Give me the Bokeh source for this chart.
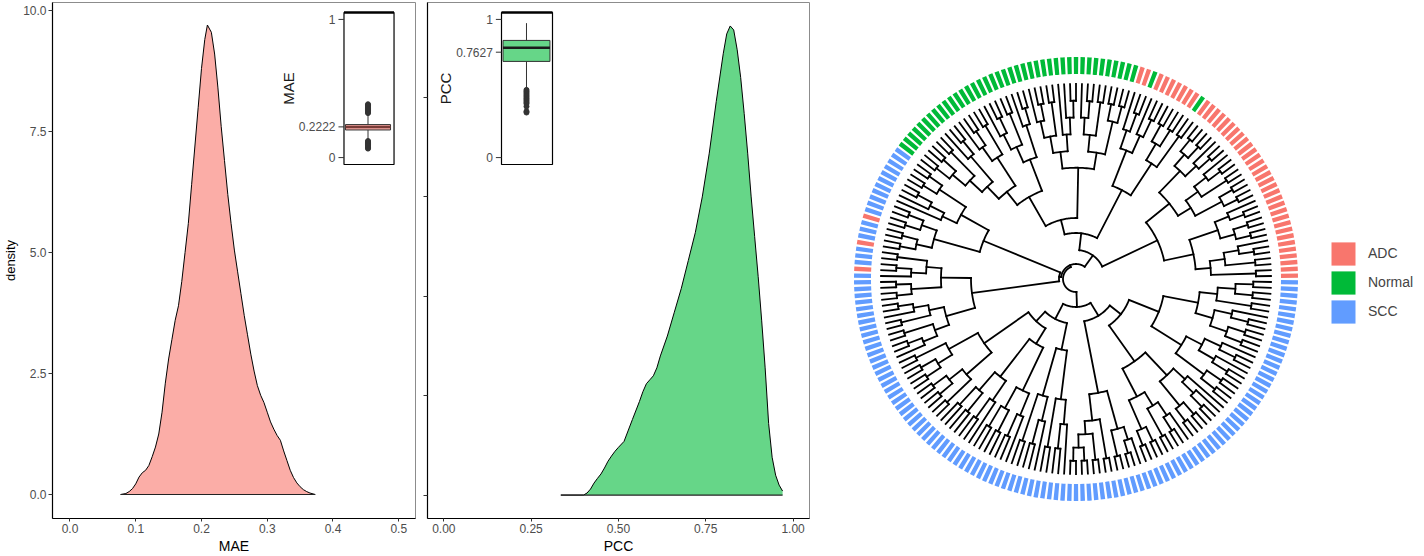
import math
from bokeh.plotting import figure
from bokeh.layouts import row
from bokeh.models import (Range1d, FixedTicker, PrintfTickFormatter, Legend,
                          LegendItem, ColumnDataSource)
from bokeh.core.properties import value
from bokeh.embed import file_html
from bokeh.resources import INLINE

FONT = "Liberation Sans"

# ------------------------------------------------------------------ data
mae_x = [0.077, 0.085, 0.090, 0.095, 0.100, 0.105, 0.110, 0.115, 0.120, 0.125,
         0.130, 0.135, 0.140, 0.145, 0.150, 0.155, 0.160, 0.165, 0.170, 0.175,
         0.180, 0.185, 0.190, 0.195, 0.200, 0.205, 0.209, 0.215, 0.220, 0.225,
         0.230, 0.235, 0.240, 0.245, 0.250, 0.255, 0.260, 0.265, 0.270, 0.275,
         0.280, 0.285, 0.290, 0.295, 0.300, 0.305, 0.310, 0.315, 0.320, 0.325,
         0.330, 0.335, 0.340, 0.345, 0.350, 0.355, 0.360, 0.365, 0.373]
mae_density = [0.0, 0.02, 0.06, 0.12, 0.22, 0.36, 0.45, 0.50, 0.60, 0.78,
               0.98, 1.25, 1.70, 2.30, 2.80, 3.20, 3.60, 3.90, 4.40, 5.00,
               5.60, 6.40, 7.20, 8.00, 8.80, 9.40, 9.70, 9.55, 9.10, 8.40,
               7.60, 6.90, 6.20, 5.60, 5.05, 4.60, 4.15, 3.70, 3.30, 2.90,
               2.55, 2.25, 2.05, 1.90, 1.70, 1.50, 1.35, 1.22, 1.12, 0.90,
               0.70, 0.50, 0.35, 0.24, 0.16, 0.10, 0.06, 0.03, 0.0]

pcc_x = [0.335, 0.400, 0.410, 0.420, 0.430, 0.440, 0.450, 0.460, 0.470, 0.480,
         0.490, 0.500, 0.516, 0.540, 0.560, 0.570, 0.580, 0.590, 0.600, 0.610,
         0.620, 0.640, 0.660, 0.680, 0.700, 0.720, 0.740, 0.760, 0.780, 0.800,
         0.810, 0.820, 0.830, 0.840, 0.850, 0.860, 0.870, 0.880, 0.890, 0.900,
         0.910, 0.920, 0.930, 0.940, 0.950, 0.960, 0.970]
pcc_density = [0.0, 0.0, 0.05, 0.15, 0.30, 0.42, 0.53, 0.68, 0.85, 0.98,
               1.10, 1.20, 1.35, 1.90, 2.35, 2.60, 2.80, 2.90, 3.00, 3.20,
               3.50, 4.00, 4.60, 5.20, 5.90, 6.60, 7.50, 8.60, 9.90, 11.10,
               11.60, 11.80, 11.70, 11.20, 10.50, 9.60, 8.60, 7.50, 6.50, 5.50,
               4.40, 3.20, 1.80, 0.95, 0.50, 0.25, 0.10]

# box plots: lower whisker, q1, median, q3, upper whisker
mae_box = [0.125, 0.200, 0.2222, 0.239, 0.318]
mae_outliers = [0.065, 0.072, 0.080, 0.088, 0.096, 0.104, 0.112, 0.120,
                0.322, 0.330, 0.338, 0.346, 0.354, 0.362, 0.370, 0.378, 0.386]
mae_mark = 0.2222
pcc_box = [0.498, 0.696, 0.795, 0.848, 0.973]
pcc_outliers = [0.326, 0.335, 0.370, 0.390, 0.400, 0.410, 0.420, 0.430,
                0.440, 0.450, 0.460, 0.470, 0.480, 0.490]
pcc_mark = 0.7627

classes = ["ADC", "Normal", "SCC"]
class_colors = ["#F8766D", "#00BA38", "#619CFF"]
# leaf classes, counter-clockwise from 3 o'clock
leaf_runs = [("ADC", 31), ("Normal", 1), ("ADC", 7), ("Normal", 1), ("ADC", 2),
             ("Normal", 40), ("SCC", 11), ("ADC", 1), ("SCC", 3), ("ADC", 1),
             ("SCC", 3), ("ADC", 1), ("SCC", 104)]

# clades of the dendrogram: base radius and nested topology (int = comb of n leaves)
clade_names = ["R1", "B", "G", "L", "L2", "BL1", "BL2", "BL3", "BOT", "BR1", "BR2"]
clade_base_r = [90, 100, 61, 100, 105, 112, 76, 72, 116, 101, 89]
clade_topology = [
    [[[2, [2, 3]], [[2, 2], 3]], [[[2, 2], [2, 3]], [3, [2, 2]]]],
    [[2, [2, 2]], [3, [2, 1]]],
    [[[[2, 2], [2, 3]], [4, [2, 3]]], [[3, [2, 3]], [[2, 3], [3, [2, [2, 2]]]]]],
    [[[2, 2], [3, 1]], [[2, 2], [2, 2]]],
    [[[2, 3], [2, 2]], [[3, 2], [2, [2, 1]]]],
    [[2, [2, 2]], [[2, 2], 2]],
    [[[2, 2], 3], [[2, 2], [2, 1]]],
    [[2, 3], [2, 3]],
    [[[[2, 2], 2], 2], [2, 3]],
    [[[2, 2], [2, 3]], [[2, 2], 4]],
    [[[2, 2], [3, 3]], [[[2, 2], 3], [2, [2, 2]]]],
]
# backbone: [node radius, child, child, ...]
backbone = [13,
            [15, [29, "R1", [46, "B", "G"]], [17, "L", "L2"]],
            [28, [45, [58, "BL1", "BL2"], "BL3"], [43, "BOT", [57, "BR1", "BR2"]]]]
R_LEAF, RING_IN, RING_OUT = 195, 205, 222

# ------------------------------------------------------------------ layout
H = 556
W1, W2, W3 = 421, 403, 600
F1L, F1R = 48, 6
F2L, F2R = 6, 15
FT, FB = 2, 38
FH = H - FT - FB
CX, CY = 1075.5, 278.5          # centre of the circular tree (page px)


def no_align(p):
    if "frame_align" in p.properties():
        p.frame_align = False


def inset_ranges(frame_w, frame_h, left, right, top, bottom, x0, x1, y0, y1):
    sx = (x1 - x0) / (right - left)
    sy = (y1 - y0) / (bottom - top)
    return (Range1d(x0 - left * sx, x1 + (frame_w - right) * sx),
            Range1d(y0 - (frame_h - bottom) * sy, y1 + top * sy))


def style(p, ylabels=True):
    p.grid.visible = False
    p.outline_line_color = "#8c8c8c"
    p.outline_line_width = 1
    p.background_fill_color = "white"
    p.border_fill_color = "white"
    for ax in p.axis:
        ax.axis_line_color = "black"
        ax.axis_line_width = 1.2
        ax.major_tick_line_color = "#333333"
        ax.major_tick_out = 4
        ax.major_tick_in = 0
        ax.minor_tick_line_color = None
        ax.major_label_text_font = FONT
        ax.major_label_text_font_size = "12px"
        ax.major_label_text_color = "#4D4D4D"
        ax.major_label_standoff = 2
        ax.axis_label_text_font = FONT
        ax.axis_label_text_font_size = "14px"
        ax.axis_label_text_font_style = "normal"
        ax.axis_label_text_color = "black"
        ax.axis_label_standoff = 2
    p.xaxis.major_tick_out = 3
    if not ylabels:
        p.yaxis.major_label_overrides = {0: "", 2.5: "", 5: "", 7.5: "", 10: ""}
        p.yaxis.major_label_standoff = 0


def density_panel(width, bl, br, xr, yr, xs, ds, color, xticks, xfmt, xlabel, ylabel):
    p = figure(width=width, height=H, x_range=Range1d(*xr), y_range=Range1d(*yr),
               output_backend="svg", toolbar_location=None,
               min_border_left=bl, min_border_right=br,
               min_border_top=FT, min_border_bottom=FB)
    p.xaxis.ticker = FixedTicker(ticks=xticks, minor_ticks=[])
    p.xaxis.formatter = PrintfTickFormatter(format=xfmt)
    p.yaxis.ticker = FixedTicker(ticks=[0, 2.5, 5, 7.5, 10], minor_ticks=[])
    p.yaxis.formatter = PrintfTickFormatter(format="%.1f")
    p.xaxis.axis_label = xlabel
    if ylabel:
        p.yaxis.axis_label = ylabel
    style(p, ylabels=bool(ylabel))
    if ylabel:
        p.yaxis.axis_label_text_font_size = "13px"
    p.varea(x=xs, y1=[0] * len(xs), y2=ds, fill_color=color, fill_alpha=0.6)
    p.line(x=xs, y=ds, line_color="black", line_width=1)
    p.segment(x0=[xs[0]], y0=[0], x1=[xs[-1]], y1=[0], line_color="#222222", line_width=1.2)
    return p


def add_inset(p, fw, left, right, box, outl, mark, color, med_color, title, cx, bx0, bx1):
    rx, ry = inset_ranges(fw, FH, left, right, 12 - FT, 164 - FT, 0.0, 1.0, -0.05, 1.05)
    p.extra_x_ranges = {"ix": rx}
    p.extra_y_ranges = {"iy": ry}
    kw = dict(x_range_name="ix", y_range_name="iy")
    p.quad(left=[0], right=[1], bottom=[-0.05], top=[1.05], fill_color="white",
           line_color="black", line_width=1.2, **kw)
    p.segment(x0=[0], y0=[1.05], x1=[1], y1=[1.05], line_color="black", line_width=2.5, **kw)
    lo, q1, med, q3, hi = box
    p.segment(x0=[cx, cx], y0=[lo, q3], x1=[cx, cx], y1=[q1, hi],
              line_color="#333333", line_width=1, **kw)
    p.quad(left=[bx0], right=[bx1], bottom=[q1], top=[q3], fill_color=color,
           fill_alpha=0.6, line_color="#333333", line_width=1, **kw)
    p.segment(x0=[bx0], y0=[med], x1=[bx1], y1=[med], line_color=med_color,
              line_width=2.5, **kw)
    p.scatter(x=[cx] * len(outl), y=outl, size=5, fill_color="#333333",
              line_color="#333333", **kw)
    ticks = [0, mark, 1]
    labels = ["0", "%.4f" % mark, "1"]
    p.segment(x0=[-0.11] * 3, y0=ticks, x1=[0] * 3, y1=ticks, line_color="#333333",
              line_width=1, **kw)
    p.text(x=[-0.17] * 3, y=ticks, text=labels, text_align="right",
           text_baseline="middle", text_font=value(FONT), text_font_size="12px",
           text_color="#4D4D4D", **kw)
    p.text(x=[-1.10], y=[0.5], text=[title], angle=math.pi / 2, text_align="center",
           text_baseline="middle", text_font=value(FONT), text_font_size="15px",
           text_color="#1a1a1a", **kw)


p1 = density_panel(W1, F1L, F1R, (-0.0266, 0.5255), (-0.496, 10.165), mae_x, mae_density,
                   class_colors[0], [0, 0.1, 0.2, 0.3, 0.4, 0.5], "%.1f", "MAE", "density")
fw1 = W1 - F1L - F1R
add_inset(p1, fw1, 342.7 - F1L, 393.3 - F1L, mae_box, mae_outliers, mae_mark,
          class_colors[0], "#7A3B37", "MAE", 0.48, 0.03, 0.93)

p2 = density_panel(W2, F2L, F2R, (-0.0467, 1.047), (-0.59, 12.39), pcc_x, pcc_density,
                   class_colors[1], [0, 0.25, 0.5, 0.75, 1.0], "%.2f", "PCC", None)
fw2 = W2 - F2L - F2R
add_inset(p2, fw2, 501.0 - W1 - F2L, 552.0 - W1 - F2L, pcc_box, pcc_outliers, pcc_mark,
          class_colors[1], "#1a1a1a", "PCC", 0.49, 0.03, 0.95)

# ------------------------------------------------------------------ dendrogram
leaf_class = []
for name, cnt in leaf_runs:
    leaf_class += [name] * cnt

counter = [0]


def new_leaf():
    n = {"children": [], "leaf": counter[0]}
    counter[0] += 1
    return n


def topo(t):
    if isinstance(t, int):
        node = new_leaf()
        for _ in range(t - 1):
            node = {"children": [node, new_leaf()], "leaf": None}
        return node
    return {"children": [topo(c) for c in t], "leaf": None}


def height(n):
    if n["leaf"] is not None:
        n["h"] = 0
    else:
        n["h"] = 1 + max(height(c) for c in n["children"])
    return n["h"]


def assign_r(n, step):
    if n["leaf"] is not None:
        n["r"] = R_LEAF
        return
    n["r"] = R_LEAF - step * n["h"]
    for c in n["children"]:
        assign_r(c, step)


clade_idx = {nm: i for i, nm in enumerate(clade_names)}


def build(b):
    if isinstance(b, str):
        i = clade_idx[b]
        node = topo(clade_topology[i])
        h = height(node)
        step = (R_LEAF - clade_base_r[i]) / (h + 1)
        assign_r(node, step)
        node["r"] = clade_base_r[i]
        return node
    return {"children": [build(c) for c in b[1:]], "leaf": None, "r": b[0]}


root = build(backbone)
N = counter[0]


def set_y(n):
    if n["leaf"] is not None:
        n["y"] = n["leaf"]
    else:
        ys = [set_y(c) for c in n["children"]]
        n["y"] = sum(ys) / len(ys)
    return n["y"]


set_y(root)


def theta(y):
    return (y + 0.5) * 2 * math.pi / N


arc_xs, arc_ys = [], []
sx0, sy0, sx1, sy1 = [], [], [], []


def collect(n):
    if n["leaf"] is not None:
        return
    angs = [theta(c["y"]) for c in n["children"]]
    a0, a1 = min(angs), max(angs)
    m = max(2, int(math.degrees(a1 - a0)) + 2)
    pts = [a0 + (a1 - a0) * j / (m - 1) for j in range(m)]
    arc_xs.append([n["r"] * math.cos(a) for a in pts])
    arc_ys.append([n["r"] * math.sin(a) for a in pts])
    for c, a in zip(n["children"], angs):
        sx0.append(n["r"] * math.cos(a))
        sy0.append(n["r"] * math.sin(a))
        sx1.append(c["r"] * math.cos(a))
        sy1.append(c["r"] * math.sin(a))
        collect(c)


collect(root)

x3_left = W1 + W2
p3 = figure(width=W3, height=H,
            x_range=Range1d(x3_left - CX, x3_left + W3 - CX),
            y_range=Range1d(CY - (H - FB), CY - FT),
            output_backend="svg", toolbar_location=None,
            x_axis_location=None, y_axis_location=None,
            min_border_left=0, min_border_right=0, min_border_top=FT, min_border_bottom=FB)
no_align(p3)
p3.grid.visible = False
p3.outline_line_color = None
p3.background_fill_color = "white"
p3.border_fill_color = "white"

p3.segment(x0=sx0, y0=sy0, x1=sx1, y1=sy1, line_color="black", line_width=1.8,
           line_cap="square")
p3.multi_line(xs=arc_xs, ys=arc_ys, line_color="black", line_width=1.8,
              line_cap="square", line_join="miter")

dth = 2 * math.pi / N
items = []
for cls, col in zip(classes, class_colors):
    idx = [i for i in range(min(N, len(leaf_class))) if leaf_class[i] == cls]
    src = ColumnDataSource(dict(
        a0=[theta(i) - 0.33 * dth for i in idx],
        a1=[theta(i) + 0.33 * dth for i in idx]))
    r = p3.annular_wedge(x=0, y=0, inner_radius=RING_IN, outer_radius=RING_OUT,
                         start_angle="a0", end_angle="a1", fill_color=col,
                         line_color=None, source=src)
    items.append(LegendItem(label=cls, renderers=[r]))

# legend: squares at page x 1331, item centres y 253 / 282 / 310.5
leg_h = 3 * 29
legend = Legend(items=items, location=(1328 - x3_left, (H - FB) - (238.5 + leg_h)),
                orientation="vertical",
                glyph_width=30, glyph_height=29, label_height=29, spacing=0,
                padding=0, margin=0, label_standoff=10,
                label_text_font=FONT, label_text_font_size="14px",
                border_line_color=None, background_fill_alpha=0)
p3.add_layout(legend)

layout = row(p1, p2, p3)
open("out.html", "w").write(file_html(layout, INLINE))
